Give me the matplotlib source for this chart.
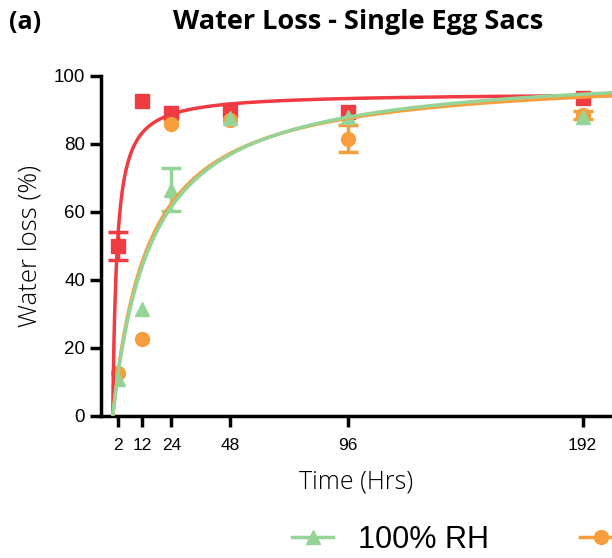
import matplotlib
matplotlib.use("Agg")
import matplotlib.pyplot as plt
import numpy as np
from matplotlib.lines import Line2D

# measured time points (hours)
hours = [2, 12, 24, 48, 96, 192]
tick_hours = [2, 12, 24, 48, 96, 192]

# mean water loss (%) and error (SEM) per series, 0 = bar hidden by marker
rh100 = [11, 31.5, 66.5, 87.5, 88, 88]
rh100_err = [0, 0, 6.3, 0, 0, 0]
rh75 = [12.5, 22.5, 86, 87, 81.5, 88.5]
rh75_err = [0, 0, 0, 0, 4, 1.2]
rh0 = [50, 92.5, 89, 90, 89.5, 93.5]
rh0_err = [4, 0, 0, 0, 0, 0]

# hyperbolic fit parameters y = ymax * t / (k + t)
fit_ymax = {"100": 102.5, "75": 101.0, "0": 95.0}
fit_k = {"100": 16.0, "75": 14.8, "0": 1.7}

labels = ["100% RH", "75% RH", "0% RH"]
c_green = "#95D497"
c_orange = "#F89D3B"
c_red = "#EF3B41"

fig = plt.figure(figsize=(6.12, 5.58), dpi=100)
ax = fig.add_axes([0.165, 0.2545, 0.835, 0.6095])

t = np.linspace(0, 204, 800)

def fit(key):
    return fit_ymax[key] * t / (fit_k[key] + t)

def draw(y, err, marker, color, z):
    ax.plot(hours, y, marker, color=color, ms=10, ls="none", zorder=z)
    err = np.array(err, dtype=float)
    keep = err > 0
    if keep.any():
        ax.errorbar(np.array(hours)[keep], np.array(y)[keep], yerr=err[keep],
                    fmt="none", ecolor=color, elinewidth=2.5, capsize=7,
                    capthick=2.5, zorder=z)

# points: red at bottom, then orange, then green
draw(rh0, rh0_err, "s", c_red, 3)
draw(rh75, rh75_err, "o", c_orange, 4)
draw(rh100, rh100_err, "^", c_green, 5)

ax.plot(t, fit("0"), color=c_red, lw=2.5, zorder=6)
ax.plot(t, fit("75"), color=c_orange, lw=2.5, zorder=6)
ax.plot(t, fit("100"), color=c_green, lw=2.5, zorder=7)

ax.set_xlim(-4.8, 204)
ax.set_ylim(0, 100)
ax.set_xticks(tick_hours)
ax.set_yticks([0, 20, 40, 60, 80, 100])
ax.spines["top"].set_visible(False)
ax.spines["right"].set_visible(False)
ax.spines["left"].set_linewidth(2.5)
ax.spines["bottom"].set_linewidth(2.5)
ax.tick_params(axis="both", direction="out", length=8, width=2.5)
ax.tick_params(axis="x", pad=8)
for lab in ax.get_yticklabels():
    lab.set_fontfamily("Liberation Sans")
    lab.set_fontsize(13.5)
for lab in ax.get_xticklabels():
    lab.set_fontfamily("Liberation Sans")
    lab.set_fontsize(12.5)

ax.set_ylabel("Water loss (%)", fontfamily="Open Sans", fontweight="light",
              fontsize=18.5, labelpad=8)
ax.set_xlabel("Time (Hrs)", fontfamily="Open Sans", fontweight="light",
              fontsize=18, labelpad=12)

fig.text(0.585, 0.96, "Water Loss - Single Egg Sacs", ha="center", va="center",
         fontfamily="Open Sans", fontweight="bold", fontsize=19.5)
fig.text(0.015, 0.96, "(a)", ha="left", va="center",
         fontfamily="Open Sans", fontweight="bold", fontsize=18)

handles = [
    Line2D([], [], color=c_green, marker="^", ms=10, lw=2.5),
    Line2D([], [], color=c_orange, marker="o", ms=10, lw=2.5),
    Line2D([], [], color=c_red, marker="s", ms=10, lw=2.5),
]
fig.legend(handles, labels, loc="center left", bbox_to_anchor=(0.477, 1 - 540 / 558),
           ncol=3, frameon=False, borderpad=0, borderaxespad=0,
           handlelength=1.35, handletextpad=0.8, columnspacing=3.0,
           prop={"family": "Liberation Sans", "size": 22})

fig.savefig("out.png", dpi=100)
